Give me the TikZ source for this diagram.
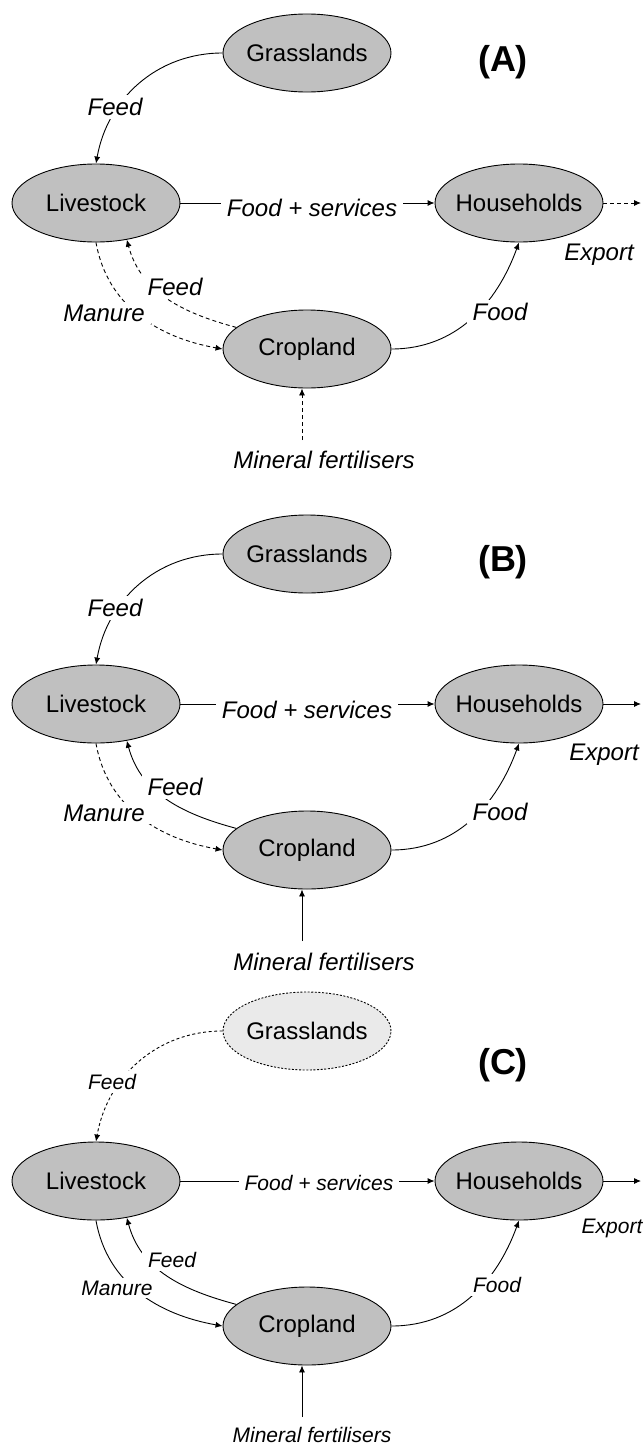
\documentclass[tikz,border=0pt]{standalone}
\usepackage{fontspec}
\setmainfont{Liberation Sans}
\usetikzlibrary{arrows.meta,shapes.geometric}
\definecolor{ecogray}{RGB}{192,192,192}
\definecolor{palegray}{RGB}{234,234,234}
% zero-width box so the ellipse size comes from the minimum size only
\newcommand{\ecotext}[1]{\makebox[0pt]{#1}}
\tikzset{
  eco/.style={ellipse, draw=black, line width=0.9pt, fill=ecogray,
    minimum width=168pt, minimum height=78pt, inner sep=0pt,
    font=\fontsize{24}{28}\selectfont},
  flow/.style={line width=0.9pt, -{Latex[length=7pt,width=6pt]}},
  dsh/.style={dash pattern=on 4pt off 3pt},
  lbl/.style={fill=white, inner xsep=6pt, inner ysep=3pt,
    font=\fontsize{24}{28}\selectfont\itshape},
  lblsmall/.style={lbl, font=\fontsize{21}{25}\selectfont\itshape},
  tag/.style={font=\fontsize{36}{40}\selectfont\bfseries},
}
\begin{document}
\begin{tikzpicture}[x=1pt,y=1pt]
\useasboundingbox (0,0) rectangle (643,-1445);

% ---------------- (A) ----------------
\begin{scope}
  \node[eco] (gA) at (307,-53) {\ecotext{Grasslands}};
  \node[eco] (lA) at (96,-203) {\ecotext{Livestock}};
  \node[eco] (hA) at (519,-203) {\ecotext{Households}};
  \node[eco] (cA) at (307,-349) {\ecotext{Cropland}};
  \node[tag] (tA) at (503,-62) {(A)};
  \coordinate (xA) at (641,-203);
  \coordinate (mtA) at (302,-440);
  \draw[flow] (gA.west) to[out=180,in=80] (lA.north);
  \draw[flow] (lA.east) -- (hA.west);
  \draw[flow,dsh] (hA.east) -- (xA);
  \draw[flow] (cA.east) to[out=0,in=-110] (hA.south);
  \draw[flow,dsh] (lA.south) to[out=-80,in=170] (cA.west);
  \draw[flow,dsh] (cA.163) to[out=165,in=-75] (lA.-50);
  \draw[flow,dsh] (mtA) -- (mtA |- cA.south);
  \node[lbl] (fgA) at (115,-107) {Feed};
  \node[lbl] (fsA) at (312,-208) {Food + services};
  \node[lbl] (exA) at (599,-255) {Export};
  \node[lbl] (fcA) at (175,-287) {Feed};
  \node[lbl] (mnA) at (104,-313) {Manure};
  \node[lbl] (fdA) at (500,-312) {Food};
  \node[lbl] (mfA) at (324,-460) {Mineral fertilisers};
\end{scope}

% ---------------- (B) ----------------
\begin{scope}[yshift=-501pt]
  \node[eco] (gB) at (307,-53) {\ecotext{Grasslands}};
  \node[eco] (lB) at (96,-203) {\ecotext{Livestock}};
  \node[eco] (hB) at (519,-203) {\ecotext{Households}};
  \node[eco] (cB) at (307,-349) {\ecotext{Cropland}};
  \node[tag] (tB) at (503,-61) {(B)};
  \coordinate (xB) at (641,-203);
  \coordinate (mtB) at (302,-440);
  \draw[flow] (gB.west) to[out=180,in=80] (lB.north);
  \draw[flow] (lB.east) -- (hB.west);
  \draw[flow] (hB.east) -- (xB);
  \draw[flow] (cB.east) to[out=0,in=-110] (hB.south);
  \draw[flow,dsh] (lB.south) to[out=-80,in=170] (cB.west);
  \draw[flow] (cB.163) to[out=165,in=-75] (lB.-50);
  \draw[flow] (mtB) -- (mtB |- cB.south);
  \node[lbl] (fgB) at (115,-107) {Feed};
  \node[lbl] (fsB) at (307,-209) {Food + services};
  \node[lbl] (exB) at (604,-254) {Export};
  \node[lbl] (fcB) at (175,-286) {Feed};
  \node[lbl] (mnB) at (104,-312) {Manure};
  \node[lbl] (fdB) at (500,-311) {Food};
  \node[lbl] (mfB) at (324,-461) {Mineral fertilisers};
\end{scope}

% ---------------- (C) ----------------
\begin{scope}[yshift=-976pt]
  \node[eco, fill=palegray, dash pattern=on 2pt off 1.6pt] (gC) at (307,-55) {\ecotext{Grasslands}};
  \node[eco] (lC) at (96,-205) {\ecotext{Livestock}};
  \node[eco] (hC) at (519,-205) {\ecotext{Households}};
  \node[eco] (cC) at (307,-350) {\ecotext{Cropland}};
  \node[tag] (tC) at (503,-89) {(C)};
  \coordinate (xC) at (641,-205);
  \coordinate (mtC) at (302,-441);
  \draw[flow,dash pattern=on 3pt off 2.5pt] (gC.west) to[out=180,in=80] (lC.north);
  \draw[flow] (lC.east) -- (hC.west);
  \draw[flow] (hC.east) -- (xC);
  \draw[flow] (cC.east) to[out=0,in=-110] (hC.south);
  \draw[flow] (lC.south) to[out=-80,in=170] (cC.west);
  \draw[flow] (cC.163) to[out=165,in=-75] (lC.-50);
  \draw[flow] (mtC) -- (mtC |- cC.south);
  \node[lblsmall] (fgC) at (112,-106) {Feed};
  \node[lblsmall] (fsC) at (319,-207) {Food + services};
  \node[lblsmall] (exC) at (612,-252) {Export};
  \node[lblsmall] (fcC) at (172,-284) {Feed};
  \node[lblsmall] (mnC) at (117,-312) {Manure};
  \node[lblsmall] (fdC) at (497,-309) {Food};
  \node[lblsmall] (mfC) at (312,-459) {Mineral fertilisers};
\end{scope}
\end{tikzpicture}
\end{document}
